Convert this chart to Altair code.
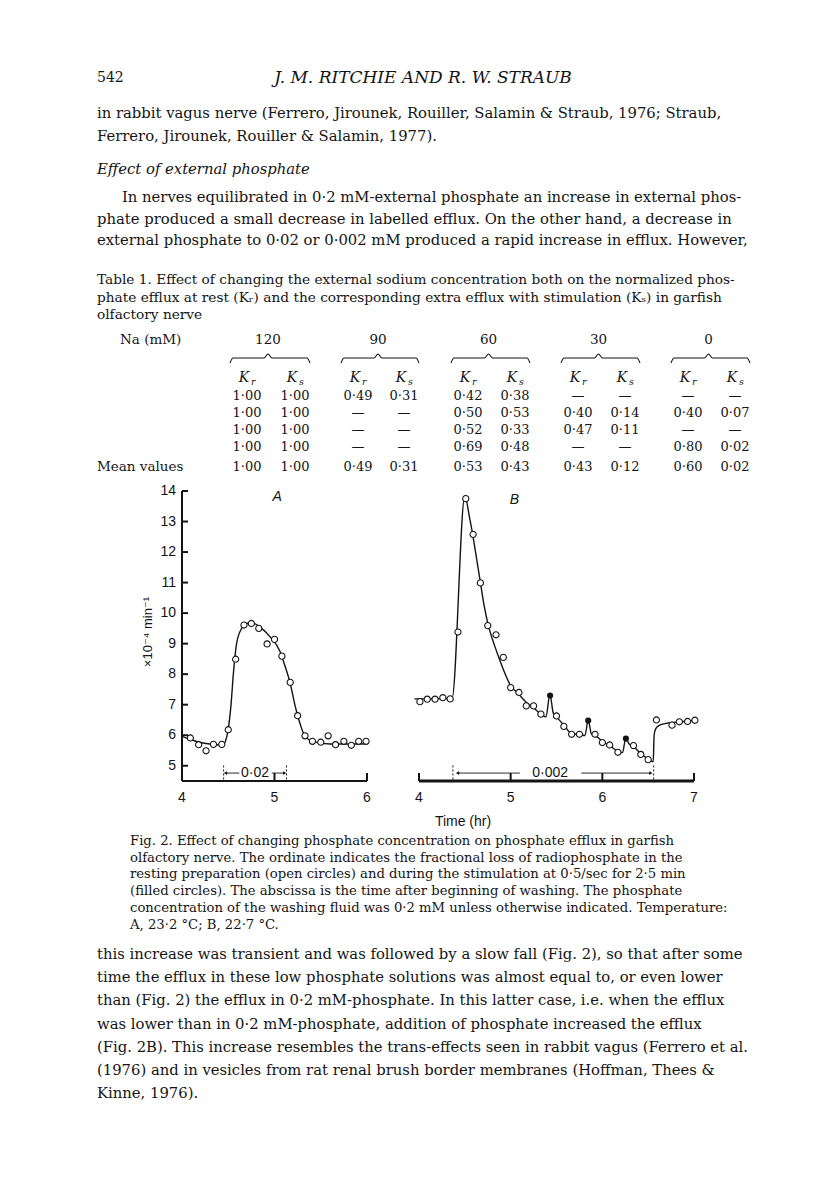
import altair as alt
import pandas as pd

# ---------------- data ----------------
# Panel A: resting efflux, open circles (time in hr, efflux x1e-4 /min)
a_time = [4.09, 4.18, 4.26, 4.34, 4.43, 4.50, 4.58, 4.67, 4.75, 4.83, 4.92, 5.00,
          5.08, 5.17, 5.25, 5.33, 5.41, 5.50, 5.58, 5.66, 5.75, 5.83, 5.91, 5.99]
a_eff = [5.91, 5.69, 5.49, 5.70, 5.70, 6.18, 8.49, 9.61, 9.66, 9.50, 8.99, 9.14,
         8.59, 7.73, 6.64, 5.98, 5.80, 5.77, 5.98, 5.69, 5.80, 5.67, 5.80, 5.80]
# Panel A: drawn curve
a_curve_time = [4.00, 4.10, 4.20, 4.30, 4.40, 4.45, 4.47, 4.50, 4.53, 4.555, 4.59, 4.645,
                4.70, 4.75, 4.84, 4.95, 5.06, 5.11, 5.17, 5.22, 5.28, 5.33, 5.42, 5.60,
                5.80, 6.00]
a_curve_eff = [5.96, 5.85, 5.76, 5.71, 5.68, 5.70, 5.80, 6.20, 7.00, 8.00, 9.00, 9.50,
               9.66, 9.69, 9.55, 9.23, 8.74, 8.30, 7.70, 7.00, 6.34, 5.96, 5.79, 5.71,
               5.71, 5.72]

# Panel B: resting efflux, open circles
b_time = [4.01, 4.09, 4.175, 4.26, 4.34, 4.425, 4.51, 4.59, 4.67, 4.75, 4.84, 4.92,
          5.00, 5.09, 5.17, 5.25, 5.33, 5.50, 5.58, 5.665, 5.75, 5.92, 6.00, 6.08,
          6.17, 6.34, 6.42, 6.50, 6.59, 6.76, 6.84, 6.93, 7.01]
b_eff = [7.10, 7.18, 7.18, 7.23, 7.19, 9.38, 13.75, 12.58, 10.99, 9.59, 9.29, 8.55,
         7.56, 7.40, 6.96, 6.96, 6.69, 6.63, 6.29, 6.03, 6.03, 6.03, 5.76, 5.68,
         5.44, 5.66, 5.37, 5.20, 6.50, 6.33, 6.44, 6.45, 6.49]
# Panel B: during stimulation, filled circles
b_stim_time = [5.43, 5.846, 6.257]
b_stim_eff = [7.30, 6.48, 5.89]
# Panel B: drawn curve
b_curve_time = [3.95, 4.10, 4.25, 4.36, 4.50, 4.55, 4.59, 4.63, 4.67, 4.71, 4.756, 4.80,
                4.85, 4.92, 5.00, 5.087, 5.17, 5.25, 5.34, 5.385, 5.428, 5.465, 5.50,
                5.58, 5.665, 5.75, 5.81, 5.846, 5.88, 5.92, 6.00, 6.08, 6.17, 6.22,
                6.257, 6.29, 6.34, 6.418, 6.50, 6.555, 6.565, 6.58, 6.62, 6.70, 6.85, 7.03]
b_curve_eff = [7.19, 7.19, 7.20, 7.20, 13.85, 13.15, 12.50, 11.75, 11.00, 10.25, 9.60, 9.15,
               8.72, 8.15, 7.62, 7.35, 7.08, 6.90, 6.67, 6.60, 7.34, 6.72, 6.60,
               6.33, 6.05, 6.02, 5.99, 6.50, 6.05, 6.00, 5.80, 5.66, 5.47, 5.43,
               5.93, 5.72, 5.63, 5.40, 5.22, 5.13, 6.00, 6.20, 6.32, 6.39, 6.44, 6.49]

y_ticks = [5, 6, 7, 8, 9, 10, 11, 12, 13, 14]
a_x_ticks = [4, 5, 6]
b_x_ticks = [4, 5, 6, 7]
a_low_period = [4.45, 5.13]     # 0.02 mM phosphate
b_low_period = [4.37, 6.56]     # 0.002 mM phosphate

# Table 1
na_groups = ["120", "90", "60", "30", "0"]
table_cols = [
    ["1·00", "1·00", "1·00", "1·00", "1·00"],
    ["1·00", "1·00", "1·00", "1·00", "1·00"],
    ["0·49", "—", "—", "—", "0·49"],
    ["0·31", "—", "—", "—", "0·31"],
    ["0·42", "0·50", "0·52", "0·69", "0·53"],
    ["0·38", "0·53", "0·33", "0·48", "0·43"],
    ["—", "0·40", "0·47", "—", "0·43"],
    ["—", "0·14", "0·11", "—", "0·12"],
    ["—", "0·40", "—", "0·80", "0·60"],
    ["—", "0·07", "—", "0·02", "0·02"],
]

# ---------------- page layout (pixels) ----------------
OFF = 8
SERIF = "DejaVu Serif"
SANS = "Liberation Sans, DejaVu Sans"
INK = "#141414"

XA = alt.Scale(domain=[4, 6], range=[182 - OFF, 367 - OFF], nice=False, zero=False)
XB = alt.Scale(domain=[4, 7], range=[419 - OFF, 694 - OFF], nice=False, zero=False)
YS = alt.Scale(domain=[4.5, 14], range=[781 - OFF, 491 - OFF], nice=False, zero=False)


def page_text(rows, size, style="normal", weight="normal", align="left", font=SERIF):
    df = pd.DataFrame(rows, columns=["px", "py", "text"])
    df["px"] = df["px"] - OFF
    df["py"] = df["py"] - OFF
    return alt.Chart(df).mark_text(
        align=align, baseline="middle", font=font, fontSize=size,
        fontStyle=style, fontWeight=weight, color=INK
    ).encode(
        x=alt.X("px:Q", scale=None, axis=None),
        y=alt.Y("py:Q", scale=None, axis=None),
        text="text:N",
    )


layers = []

# header
layers.append(page_text([(97, 78, "542")], 14))
layers.append(page_text([(423, 78, "J. M. RITCHIE AND R. W. STRAUB")], 17, style="italic", align="center"))

body = [
    (97, 114, "in rabbit vagus nerve (Ferrero, Jirounek, Rouiller, Salamin & Straub, 1976; Straub,"),
    (97, 137, "Ferrero, Jirounek, Rouiller & Salamin, 1977)."),
    (122, 198, "In nerves equilibrated in 0·2 mM-external phosphate an increase in external phos-"),
    (97, 220, "phate produced a small decrease in labelled efflux. On the other hand, a decrease in"),
    (97, 241, "external phosphate to 0·02 or 0·002 mM produced a rapid increase in efflux. However,"),
]
layers.append(page_text(body, 14.8))
layers.append(page_text([(97, 170, "Effect of external phosphate")], 14.8, style="italic"))

tcap = [
    (97, 280, "Table 1. Effect of changing the external sodium concentration both on the normalized phos-"),
    (97, 298, "phate efflux at rest (Kᵣ) and the corresponding extra efflux with stimulation (Kₛ) in garfish"),
    (97, 315, "olfactory nerve"),
]
layers.append(page_text(tcap, 13.7))

# table body
col_x = [247, 295, 358, 404, 468, 515, 578, 625, 688, 735]
row_y = [396, 413, 430, 447, 467]
layers.append(page_text([(120, 340, "Na (mM)"), (97, 467, "Mean values")], 13.5))
hdr = []
for g, name in enumerate(na_groups):
    hdr.append(((col_x[2 * g] + col_x[2 * g + 1]) / 2 - 3, 340, name))
layers.append(page_text(hdr, 13.5, align="center"))
cells = []
for c, vals in enumerate(table_cols):
    for r, v in enumerate(vals):
        cells.append((col_x[c], row_y[r], v))
layers.append(page_text(cells, 13, align="center"))
kk = []
subs = []
for c in range(10):
    kk.append((col_x[c] - 3, 378, "K"))
    subs.append((col_x[c] + 4, 382, "r" if c % 2 == 0 else "s"))
layers.append(page_text(kk, 14, style="italic", align="center"))
layers.append(page_text(subs, 9.5, style="italic", align="left"))

# curly braces over column pairs
br = []
for g in range(5):
    x0 = col_x[2 * g] - 17 - OFF
    x1 = col_x[2 * g + 1] + 15 - OFF
    xc = (x0 + x1) / 2 - 2
    yb = 358 - OFF
    pts = [(x0, yb + 5), (x0 + 3, yb), (xc - 4, yb), (xc, yb - 4), (xc + 4, yb), (x1 - 3, yb), (x1, yb + 5)]
    for i, (px, py) in enumerate(pts):
        br.append({"g": g, "i": i, "px": px, "py": py})
layers.append(
    alt.Chart(pd.DataFrame(br)).mark_line(color=INK, strokeWidth=1.1, interpolate="monotone").encode(
        x=alt.X("px:Q", scale=None, axis=None), y=alt.Y("py:Q", scale=None, axis=None),
        detail="g:N", order="i:Q")
)

# figure caption
fcap = [
    (130, 841, "Fig. 2. Effect of changing phosphate concentration on phosphate efflux in garfish"),
    (130, 858, "olfactory nerve. The ordinate indicates the fractional loss of radiophosphate in the"),
    (130, 874, "resting preparation (open circles) and during the stimulation at 0·5/sec for 2·5 min"),
    (130, 891, "(filled circles). The abscissa is the time after beginning of washing. The phosphate"),
    (130, 908, "concentration of the washing fluid was 0·2 mM unless otherwise indicated. Temperature:"),
    (130, 925, "A, 23·2 °C; B, 22·7 °C."),
]
layers.append(page_text(fcap, 13.2))

tail = [
    (97, 955, "this increase was transient and was followed by a slow fall (Fig. 2), so that after some"),
    (97, 978, "time the efflux in these low phosphate solutions was almost equal to, or even lower"),
    (97, 1001, "than (Fig. 2) the efflux in 0·2 mM-phosphate. In this latter case, i.e. when the efflux"),
    (97, 1025, "was lower than in 0·2 mM-phosphate, addition of phosphate increased the efflux"),
    (97, 1048, "(Fig. 2B). This increase resembles the trans-effects seen in rabbit vagus (Ferrero et al."),
    (97, 1071, "(1976) and in vesicles from rat renal brush border membranes (Hoffman, Thees &"),
    (97, 1094, "Kinne, 1976)."),
]
layers.append(page_text(tail, 14.8))


# ---------------- the two panels ----------------
def panel(xs, t_pts, v_pts, t_curve, v_curve, x_ticks, period, period_label, label, axis_w,
          arrow_l, arrow_r, stim=None, y_axis=False):
    out = []
    curve = pd.DataFrame({"t": t_curve, "v": v_curve})
    out.append(alt.Chart(curve).mark_line(color=INK, strokeWidth=1.4, interpolate="monotone").encode(
        x=alt.X("t:Q", scale=xs, axis=None), y=alt.Y("v:Q", scale=YS, axis=None)))
    pts = pd.DataFrame({"t": t_pts, "v": v_pts})
    out.append(alt.Chart(pts).mark_point(shape="circle", size=38, filled=False, fill="white",
                                         fillOpacity=1, stroke=INK, strokeWidth=1.1, opacity=1).encode(
        x=alt.X("t:Q", scale=xs, axis=None), y=alt.Y("v:Q", scale=YS, axis=None)))
    if stim is not None:
        sp = pd.DataFrame({"t": stim[0], "v": stim[1]})
        out.append(alt.Chart(sp).mark_point(shape="circle", size=38, filled=True, color=INK, opacity=1).encode(
            x=alt.X("t:Q", scale=xs, axis=None), y=alt.Y("v:Q", scale=YS, axis=None)))
    # x axis line and inward ticks
    ax = pd.DataFrame({"t0": [x_ticks[0]], "t1": [x_ticks[-1]], "v": [4.5]})
    out.append(alt.Chart(ax).mark_rule(color=INK, strokeWidth=axis_w).encode(
        x=alt.X("t0:Q", scale=xs, axis=None), x2="t1:Q", y=alt.Y("v:Q", scale=YS, axis=None)))
    tk = pd.DataFrame({"t": x_ticks, "v0": [4.5] * len(x_ticks), "v1": [4.76] * len(x_ticks),
                       "lab": [str(t) for t in x_ticks], "lv": [3.95] * len(x_ticks)})
    out.append(alt.Chart(tk).mark_rule(color=INK, strokeWidth=2).encode(
        x=alt.X("t:Q", scale=xs, axis=None), y=alt.Y("v0:Q", scale=YS, axis=None), y2="v1:Q"))
    out.append(alt.Chart(tk).mark_text(font=SANS, fontSize=14, color=INK, baseline="middle").encode(
        x=alt.X("t:Q", scale=xs, axis=None), y=alt.Y("lv:Q", scale=YS, axis=None), text="lab:N"))
    if y_axis:
        ya = pd.DataFrame({"t": [4], "v0": [4.5], "v1": [14]})
        out.append(alt.Chart(ya).mark_rule(color=INK, strokeWidth=2).encode(
            x=alt.X("t:Q", scale=xs, axis=None), y=alt.Y("v0:Q", scale=YS, axis=None), y2="v1:Q"))
        yt = pd.DataFrame({"t0": [4] * len(y_ticks), "t1": [4.065] * len(y_ticks), "v": y_ticks,
                           "lab": [str(v) for v in y_ticks]})
        out.append(alt.Chart(yt).mark_rule(color=INK, strokeWidth=2).encode(
            x=alt.X("t0:Q", scale=xs, axis=None), x2="t1:Q", y=alt.Y("v:Q", scale=YS, axis=None)))
        out.append(alt.Chart(yt).mark_text(font=SANS, fontSize=14, color=INK, align="right",
                                           baseline="middle", dx=-6).encode(
            x=alt.X("t0:Q", scale=xs, axis=None), y=alt.Y("v:Q", scale=YS, axis=None), text="lab:N"))
    # low-phosphate period: dashed limits, arrows and label
    pm = pd.DataFrame({"t": period, "v0": [4.55, 4.55], "v1": [5.05, 5.05]})
    out.append(alt.Chart(pm).mark_rule(color=INK, strokeWidth=1, strokeDash=[2, 2]).encode(
        x=alt.X("t:Q", scale=xs, axis=None), y=alt.Y("v0:Q", scale=YS, axis=None), y2="v1:Q"))
    ar = pd.DataFrame({"t0": [arrow_l[0], arrow_r[0]], "t1": [arrow_l[1], arrow_r[1]], "v": [4.76, 4.76]})
    out.append(alt.Chart(ar).mark_rule(color=INK, strokeWidth=0.9).encode(
        x=alt.X("t0:Q", scale=xs, axis=None), x2="t1:Q", y=alt.Y("v:Q", scale=YS, axis=None)))
    heads = pd.DataFrame({"t": [arrow_l[0], arrow_r[1]], "v": [4.76, 4.76],
                          "s": ["triangle-left", "triangle-right"]})
    out.append(alt.Chart(heads).mark_point(filled=True, color=INK, size=14, opacity=1).encode(
        x=alt.X("t:Q", scale=xs, axis=None), y=alt.Y("v:Q", scale=YS, axis=None),
        shape=alt.Shape("s:N", scale=None, legend=None)))
    lab = pd.DataFrame({"t": [period_label[0]], "v": [4.77], "lab": [period_label[1]]})
    out.append(alt.Chart(lab).mark_text(font=SANS, fontSize=14, color=INK, baseline="middle").encode(
        x=alt.X("t:Q", scale=xs, axis=None), y=alt.Y("v:Q", scale=YS, axis=None), text="lab:N"))
    pl = pd.DataFrame({"t": [label[0]], "v": [label[1]], "lab": [label[2]]})
    out.append(alt.Chart(pl).mark_text(font=SANS, fontSize=14, fontStyle="italic", color=INK,
                                       baseline="middle").encode(
        x=alt.X("t:Q", scale=xs, axis=None), y=alt.Y("v:Q", scale=YS, axis=None), text="lab:N"))
    return out


layers += panel(XA, a_time, a_eff, a_curve_time, a_curve_eff, a_x_ticks, a_low_period,
                (4.79, "0·02"), (5.03, 13.8, "A"), 2.2, (4.47, 4.62), (4.97, 5.11), y_axis=True)
layers += panel(XB, b_time, b_eff, b_curve_time, b_curve_eff, b_x_ticks, b_low_period,
                (5.43, "0·002"), (5.04, 13.7, "B"), 3.2, (4.42, 5.10), (5.77, 6.53),
                stim=(b_stim_time, b_stim_eff))

# axis titles
layers.append(alt.Chart(pd.DataFrame({"lab": ["×10⁻⁴ min⁻¹"]})).mark_text(
    font=SANS, fontSize=13, color=INK, angle=270, baseline="middle", align="center").encode(
    x=alt.value(148 - OFF), y=alt.value(632 - OFF), text="lab:N"))
layers.append(alt.Chart(pd.DataFrame({"lab": ["Time (hr)"]})).mark_text(
    font=SANS, fontSize=14, color=INK, baseline="middle", align="center").encode(
    x=alt.value(463 - OFF), y=alt.value(822 - OFF), text="lab:N"))

chart = alt.layer(*layers).resolve_scale(x="independent", y="independent").properties(
    width=800, height=1165, autosize=alt.AutoSizeParams(type="none"), padding=0,
    background="white"
).configure_view(stroke=None)

chart.save("out.html", embed_options={"renderer": "svg", "actions": False})
